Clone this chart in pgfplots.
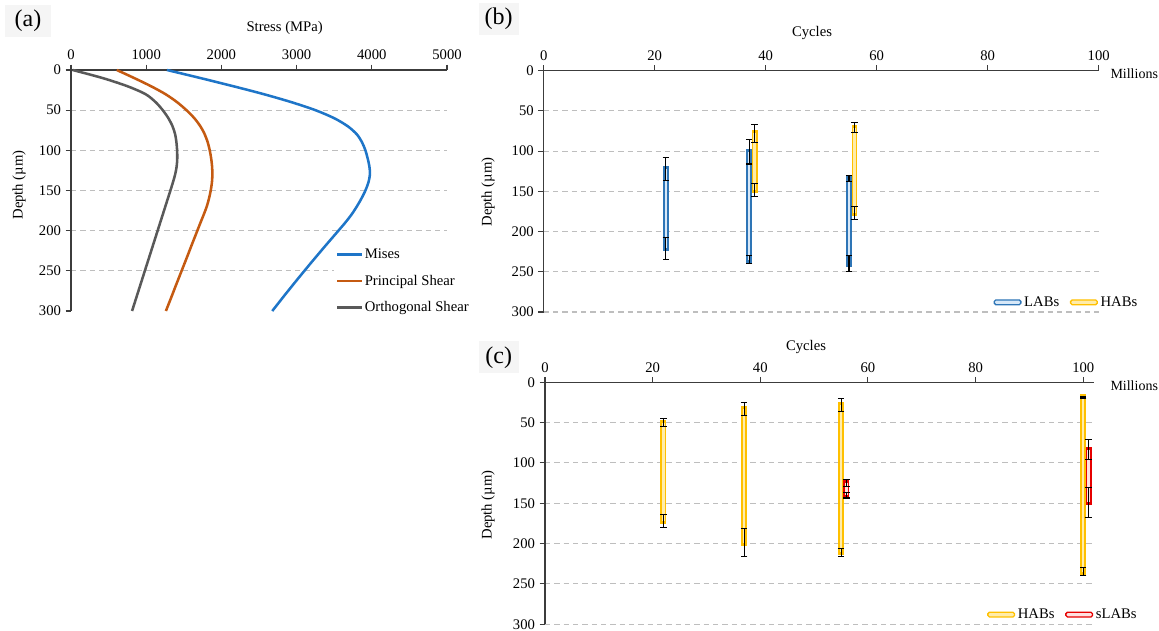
\documentclass[border=0pt]{standalone}
\usepackage{pgfplots}
\pgfplotsset{compat=1.18}
\usepackage{fontspec}
\setmainfont{Liberation Serif}
\definecolor{mises}{RGB}{30,117,200}
\definecolor{pshear}{RGB}{197,90,17}
\definecolor{oshear}{RGB}{89,89,89}
\definecolor{gridc}{RGB}{190,190,190}
\definecolor{axc}{RGB}{60,60,60}
\definecolor{labout}{RGB}{46,117,182}
\definecolor{labin}{RGB}{215,232,248}
\definecolor{habout}{RGB}{255,192,0}
\definecolor{habin}{RGB}{255,236,170}
\definecolor{slabout}{RGB}{230,0,0}
\definecolor{slabin}{RGB}{255,225,225}
\definecolor{tagbg}{RGB}{245,245,245}
\pgfplotsset{
 base/.style={scale only axis, y dir=reverse, ymin=0, ymax=300,
  axis x line=top, axis y line=left,
  axis line style={-, draw=axc, line width=0.9pt},
  tick style={draw=axc, line width=0.8pt}, major tick length=4pt, tick align=outside,
  ymajorgrids, grid style={draw=gridc, dash pattern=on 4pt off 3pt, line width=0.8pt},
  tick label style={font=\fontsize{11}{13}\selectfont},
  /pgf/number format/assume math mode=true, /pgf/number format/1000 sep={},
  scaled ticks=false, clip=false},
 barout/.style={line width=4.4pt, line cap=rect, unbounded coords=jump, forget plot},
 barin/.style={line width=1.8pt, line cap=butt, unbounded coords=jump, forget plot},
 errb/.style={forget plot, draw=none, mark=none,
  error bars/.cd, y dir=both, y explicit,
  error bar style={draw=black, solid, line width=0.8pt},
  error mark=-, error mark options={rotate=90, draw=black, solid, line width=0.8pt, mark size=2.4pt}},
 barleg/.style 2 args={legend image code/.code={\draw[#1, line width=1pt, fill=#2, rounded corners=1.2pt] (0pt,-1.8pt) rectangle (20pt,1.8pt);}}
}
\begin{document}
\begin{tikzpicture}
\path[use as bounding box] (0pt,0pt) rectangle (869.25pt,-473.25pt);
% ---------------- (a)
\begin{axis}[base, at={(53.25pt,-52.5pt)}, anchor=north west,
  width=282pt, height=180.75pt, xmin=0, xmax=5000, xtick={0,1000,...,5000},
  ytick={0,50,...,250}, extra y ticks={300}, extra y tick style={grid=none},
  legend cell align=left,
  legend style={at={(axis description cs:0.70,0.27)}, anchor=north west, draw=none, fill=white,
    font=\fontsize{11}{13}\selectfont, row sep=8.8pt, inner sep=1pt,
    nodes={inner sep=1pt}},
  legend image code/.code={\draw[#1, line width=2pt] (0pt,0pt) -- (18.75pt,0pt);}]
\addplot[mises, line width=1.9pt, smooth] coordinates {
 (1276,0) (1720,10) (2150,20) (2560,30) (2930,40) (3250,50) (3500,60) (3680,70)
 (3800,80) (3870,90) (3915,100) (3945,110) (3968,120) (3975,130) (3955,140) (3915,150)
 (3862,160) (3800,170) (3730,180) (3647,190) (3556,200) (3464,210) (3372,220) (3282,230)
 (3192,240) (3104,250) (3016,260) (2930,270) (2844,280) (2760,290) (2676,300)};
\addlegendentry{Mises}
\addplot[pshear, line width=1.9pt, smooth] coordinates {
 (609,0) (840,10) (1060,20) (1255,30) (1410,40) (1535,50) (1640,60) (1720,70)
 (1778,80) (1818,90) (1845,100) (1864,110) (1876,120) (1880,130) (1874,140) (1858,150)
 (1835,160) (1805,170) (1765,180) (1722,190) (1680,200) (1638,210) (1596,220) (1555,230)
 (1513,240) (1471,250) (1429,260) (1387,270) (1346,280) (1304,290) (1262,300)};
\addlegendentry{Principal Shear}
\addplot[oshear, line width=1.9pt, smooth] coordinates {
 (22,0) (420,10) (745,20) (990,30) (1125,40) (1220,50) (1295,60) (1350,70)
 (1385,80) (1402,90) (1411,100) (1413,110) (1405,120) (1385,130) (1355,140) (1322,150)
 (1288,160) (1254,170) (1220,180) (1186,190) (1152,200) (1118,210) (1084,220) (1050,230)
 (1016,240) (982,250) (948,260) (914,270) (880,280) (846,290) (812,300)};
\addlegendentry{Orthogonal Shear}
\end{axis}
% ---------------- (b)
\begin{axis}[base, at={(407.8pt,-53pt)}, anchor=north west,
  width=416.25pt, height=181pt, xmin=0, xmax=100, xtick={0,20,...,100},
  ytick={0,50,...,300},
  legend columns=2,
  legend style={at={(axis description cs:0.81,0.04)}, anchor=west, draw=none, fill=none,
    font=\fontsize{11}{13}\selectfont, inner sep=0pt, nodes={inner sep=2pt},
    /tikz/every even column/.append style={column sep=6pt}}]
\addplot[labout, barout] coordinates {(22,122) (22,221) (22,nan) (37,101) (37,235) (37,nan) (55,134) (55,240)};
\addplot[labin, barin] coordinates {(22,122) (22,221) (22,nan) (37,101) (37,235) (37,nan) (55,134) (55,240)};
\addplot[habout, barout] coordinates {(38,78) (38,148) (38,nan) (56,71) (56,177)};
\addplot[habin, barin] coordinates {(38,78) (38,148) (38,nan) (56,71) (56,177)};
\addplot[errb] coordinates {(22,122) +- (0,14) (22,221) +- (0,14) (37,101) +- (0,15) (37,235) +- (0,5) (55,134) +- (0,4) (55,240) +- (0,10)};
\addplot[errb] coordinates {(38,78) +- (0,11) (38,148) +- (0,8) (56,71) +- (0,6) (56,177) +- (0,8)};
\addlegendimage{barleg={labout}{labin}}
\addlegendentry{LABs}
\addlegendimage{barleg={habout}{habin}}
\addlegendentry{HABs}
\end{axis}
% ---------------- (c)
\begin{axis}[base, at={(408.75pt,-286.7pt)}, anchor=north west,
  width=411.75pt, height=181.5pt, xmin=0, xmax=102, xtick={0,20,...,100},
  ytick={0,50,...,300},
  legend columns=2,
  legend style={at={(axis description cs:0.805,0.04)}, anchor=west, draw=none, fill=none,
    font=\fontsize{11}{13}\selectfont, inner sep=0pt, nodes={inner sep=2pt},
    /tikz/every even column/.append style={column sep=6pt}}]
\addplot[habout, barout] coordinates {(22,50) (22,172) (22,nan) (37,33) (37,199) (37,nan) (55,28) (55,211) (55,nan) (100,18.5) (100,235)};
\addplot[habin, barin] coordinates {(22,50) (22,172) (22,nan) (37,33) (37,199) (37,nan) (55,28) (55,211) (55,nan) (100,18.5) (100,235)};
\addplot[slabout, barout] coordinates {(56,124.5) (56,140) (56,nan) (101,83.5) (101,149)};
\addplot[slabin, barin] coordinates {(56,124.5) (56,140) (56,nan) (101,83.5) (101,149)};
\addplot[errb] coordinates {(22,50) +- (0,5) (22,172) +- (0,8) (37,33) +- (0,8) (37,199) +- (0,17.5) (55,28) +- (0,8) (55,211) +- (0,5) (100,18.5) +- (0,1) (100,235) +- (0,5)};
\addplot[errb] coordinates {(56,124.5) +- (0,4.5) (56,140) +- (0,3.5) (101,83.5) +- (0,12) (101,149) +- (0,18.5)};
\addlegendimage{barleg={habout}{habin}}
\addlegendentry{HABs}
\addlegendimage{barleg={slabout}{slabin}}
\addlegendentry{sLABs}
\end{axis}
% ---------------- labels
\fontsize{11}{13}\selectfont
\node[fill=tagbg, minimum width=34pt, minimum height=24pt, font=\fontsize{18}{20}\selectfont] at (21pt,-15.75pt) {(a)};
\node[fill=tagbg, minimum width=30pt, minimum height=24pt, font=\fontsize{18}{20}\selectfont] at (374pt,-14pt) {(b)};
\node[fill=tagbg, minimum width=30pt, minimum height=24pt, font=\fontsize{18}{20}\selectfont] at (374pt,-268pt) {(c)};
\node at (213.5pt,-21pt) {Stress (MPa)};
\node[rotate=90] at (14.25pt,-138.75pt) {Depth (µm)};
\node at (609pt,-25pt) {Cycles};
\node[rotate=90] at (366pt,-144pt) {Depth (µm)};
\node[anchor=west, font=\fontsize{10.5}{12}\selectfont] at (829pt,-55pt) {Millions};
\node at (604.5pt,-260.25pt) {Cycles};
\node[rotate=90] at (366pt,-378.75pt) {Depth (µm)};
\node[anchor=west, font=\fontsize{10.5}{12}\selectfont] at (829pt,-289.5pt) {Millions};
\end{tikzpicture}
\end{document}
